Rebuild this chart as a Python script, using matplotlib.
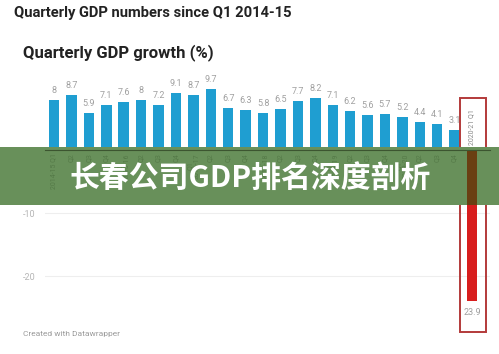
import matplotlib
matplotlib.use("Agg")
import matplotlib.pyplot as plt
from matplotlib.patches import Rectangle

# quarterly GDP growth (%), 2014-15 Q1 .. 2020-21 Q1
values = [8, 8.7, 5.9, 7.1, 7.6, 8, 7.2, 9.1, 8.7, 9.7, 6.7, 6.3,
          5.8, 6.5, 7.7, 8.2, 7.1, 6.2, 5.6, 5.7, 5.2, 4.4, 4.1, 3.1, -23.9]
years = ["2014-15", "2015-16", "2016-17", "2017-18", "2018-19", "2019-20", "2020-21"]
quarters = ["Q1", "Q2", "Q3", "Q4"]
yticks = [-20, -10, 0]
ytick_labels = ["-20", "-10", ""]

labels = []
for y in years:
    for q in quarters:
        labels.append((y, q))
labels = labels[:len(values)]

BLUE = "#1f9ed1"
RED = "#d81e1e"
GREEN = "#68905a"

fig = plt.figure(figsize=(4.99, 3.54), dpi=100)
W, H = 499, 354

# titles
fig.text(14 / W, 1 - 13 / H, "Quarterly GDP numbers since Q1 2014-15",
         fontsize=10.6, family="Roboto", weight="bold", color="#222222", va="center")
fig.text(23 / W, 1 - 53 / H, "Quarterly GDP growth (%)",
         fontsize=12, family="Roboto", weight="bold", color="#222222", va="center")
fig.text(23 / W, 1 - 334 / H, "Created with Datawrapper",
         fontsize=6, family="Roboto", color="#9a9a9a", va="center")

ax = fig.add_axes([45 / W, 1 - 320 / H, 445 / W, 245 / H])
ax.set_xlim(-0.52, 25.03)
ax.set_ylim(-26.98, 11.9)
for s in ax.spines.values():
    s.set_visible(False)
ax.set_xticks([])
ax.set_yticks(yticks)
ax.set_yticklabels(ytick_labels, fontsize=6.5, color="#b5b5b5", family="Roboto")
ax.tick_params(axis="y", length=0, pad=7)
ax.grid(axis="y", color="#eeeeee", lw=0.8)
ax.set_axisbelow(True)

x = list(range(len(values)))
colors = [BLUE if v >= 0 else RED for v in values]
ax.bar(x, values, width=0.6, color=colors, zorder=2)

for i, v in enumerate(values):
    if v >= 0:
        ax.text(i, v + 0.8, f"{v:g}", ha="center", va="bottom", fontsize=6.5,
                color="#a0a0a0", family="Roboto")
    else:
        ax.text(i, v - 1.2, f"{v:g}".replace("-", ""), ha="center", va="top", fontsize=6.5,
                color="#a0a0a0", family="Roboto")

ax.axhline(0, color="#333333", lw=0.8, zorder=3)

# highlight box round the last quarter
last = len(values) - 1
ax.add_patch(Rectangle((last - 0.72, values[last] - 5.0), 1.5, 8.2 - values[last] + 5.0,
                       fill=False, edgecolor="#b33a3a", lw=1.4, clip_on=False, zorder=4))
ax.text(last, 0.8, " ".join(labels[last]), rotation=90, ha="center", va="bottom",
        fontsize=5, color="#888888", family="Roboto")

# green banner over the axis labels
band = Rectangle((0, 1 - 205 / H), 1, 58 / H, transform=fig.transFigure,
                 facecolor=GREEN, edgecolor="none", zorder=5)
fig.add_artist(band)

# axis labels faintly through the banner
ax2 = fig.add_axes(ax.get_position(), sharex=ax, sharey=ax, zorder=6)
ax2.patch.set_visible(False)
ax2.axis("off")
ax2.bar([last], [values[last]], width=0.6, color="#6a3f12")
ax2.axhline(0, color="#3c5530", lw=0.8)
for c in ax2.patches + ax2.lines:
    c.set_clip_path(band)
for i, (yr, q) in enumerate(labels[:-1]):
    if q == "Q1":
        txt = f"{yr} {q}" if i == 0 else f"{q}\n{yr}"
    else:
        txt = q
    ax2.text(i, -0.5, txt, rotation=90, ha="center", va="top", fontsize=5,
             color="#557a48", family="Roboto", linespacing=1.0)

fig.text(250 / W, 1 - 178 / H, "长春公司GDP排名深度剖析", ha="center", va="center",
         fontsize=21.5, weight="bold", color="white",
         family=["Noto Sans CJK SC", "DejaVu Sans"], zorder=7)

fig.savefig("out.png", dpi=100, facecolor="white")
